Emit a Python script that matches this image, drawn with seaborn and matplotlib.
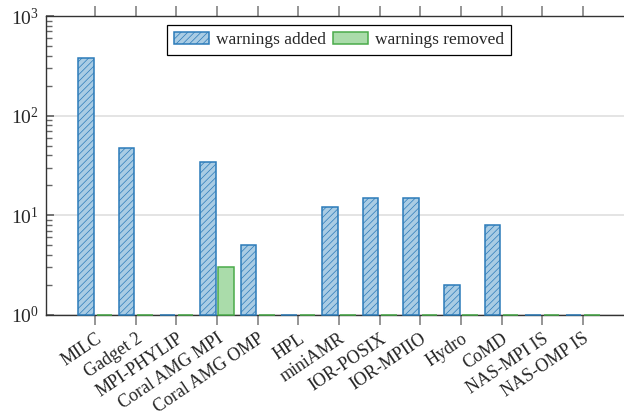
import numpy as np
import pandas as pd
import matplotlib
matplotlib.use("Agg")
import matplotlib.pyplot as plt
from matplotlib.patches import Patch
import seaborn as sns

# data
apps = ["MILC", "Gadget 2", "MPI-PHYLIP", "Coral AMG MPI", "Coral AMG OMP", "HPL",
        "miniAMR", "IOR-POSIX", "IOR-MPIIO", "Hydro", "CoMD", "NAS-MPI IS", "NAS-OMP IS"]
added = [380, 47, 0, 34, 5, 0, 12, 15, 15, 2, 8, 0, 0]
removed = [0, 0, 0, 3, 0, 0, 0, 0, 0, 0, 0, 0, 0]
series = ["warnings added", "warnings removed"]

face = ["#a9cce4", "#aadcaa"]
edge = ["#2b7bb9", "#4aab4a"]

sns.set_theme(style="white")
plt.rcParams["font.family"] = ["Liberation Serif", "DejaVu Serif"]
plt.rcParams["mathtext.fontset"] = "stix"
plt.rcParams["hatch.linewidth"] = 0.5

df = pd.DataFrame({
    "app": apps * 2,
    "kind": [series[0]] * len(apps) + [series[1]] * len(apps),
    "count": added + removed,
})
# zero counts sit on the log baseline
df["shown"] = df["count"].clip(lower=1)

fig = plt.figure(figsize=(6.24, 4.15), dpi=100)
ax = fig.add_axes([46 / 624, 1 - 315 / 415, 586 / 624, 299 / 415])

sns.barplot(data=df, x="app", y="shown", hue="kind", hue_order=series,
            palette=face, width=0.9, gap=0.15, errorbar=None, ax=ax)
ax.set_yscale("log")
ax.set_ylim(1, 1000)
ax.set_xlim(-1.21, len(apps) - 1 + 1.21)

for i, cont in enumerate(ax.containers):
    for p in cont:
        # start bars at the log baseline (10^0) instead of 0
        top = p.get_y() + p.get_height()
        p.set_y(1)
        p.set_height(top - 1)
        p.set_facecolor(face[i])
        p.set_edgecolor(edge[i])
        p.set_linewidth(1.1)
        p.set_zorder(3)
        p.set_clip_on(False)
        if i == 0:
            p.set_hatch("/////")

ax.legend_.remove()
handles = [Patch(facecolor=face[0], edgecolor=edge[0], hatch="/////", lw=1.1),
           Patch(facecolor=face[1], edgecolor=edge[1], lw=1.1)]
leg = ax.legend(handles, series, loc="upper center", ncol=2, fontsize=12.5,
                frameon=True, fancybox=False, framealpha=1, edgecolor="black",
                handlelength=2.0, handleheight=0.75, columnspacing=0.4,
                handletextpad=0.4, borderaxespad=0.5, borderpad=0.4)
leg.get_frame().set_linewidth(0.9)

ax.yaxis.grid(True, which="major", color="#e2e2e2", lw=1.3)
ax.set_axisbelow(True)
for s in ["left", "bottom", "top"]:
    ax.spines[s].set_color("#333333")
    ax.spines[s].set_linewidth(1.0)
ax.spines["right"].set_visible(False)

ax.tick_params(axis="x", which="both", direction="out", length=7, color="#888888",
               top=True, bottom=True, labeltop=False, labelsize=13, pad=4)
ax.tick_params(axis="y", which="major", direction="in", length=6, color="#666666",
               left=True, right=False, labelsize=14, pad=5)
ax.tick_params(axis="y", which="minor", direction="in", length=4, color="#666666",
               left=True, right=False)
ax.set_xticks(range(len(apps)))
ax.set_xticklabels(apps, rotation=34, ha="right", rotation_mode="anchor")
ax.set_xlabel("")
ax.set_ylabel("")

fig.savefig("out.png", dpi=100)
